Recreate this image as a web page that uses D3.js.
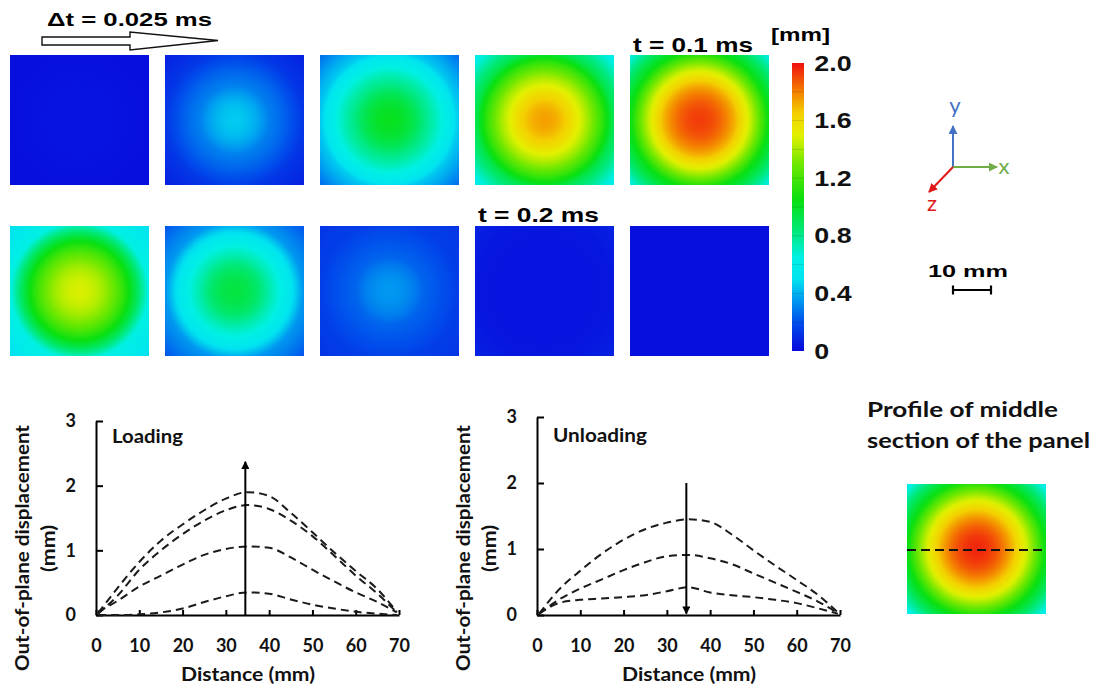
<!DOCTYPE html>
<html>
<head>
<meta charset="utf-8">
<script src="https://cdn.jsdelivr.net/npm/d3@7"></script>
<style>
  body { margin: 0; background: #fff; }
  svg { display: block; }
  .arial { font-family: "Liberation Sans", Arial, sans-serif; font-weight: bold; }
  .cal { font-family: Lato, "Open Sans", sans-serif; font-weight: bold; }
  .axis path, .axis line { stroke: #000; stroke-width: 2; }
  .axis text { font-family: Lato, "Open Sans", sans-serif; font-weight: bold; font-size: 18px; fill: #111; }
</style>
</head>
<body>
<svg id="fig" width="1098" height="694"></svg>
<script>
// ---- contour colour map (displacement in mm -> colour) ----
const cmapValues = [0, 0.2, 0.35, 0.5, 0.65, 0.85, 1.05, 1.3, 1.5, 1.65, 1.8, 2.0];
const cmapColors = ['#0808dc', '#0050ec', '#0098f0', '#00e4f0', '#00f0e4', '#00e870',
                    '#08e010', '#70e800', '#e4f000', '#f4d000', '#f48000', '#f01010'];
const colorTicks = [0, 0.4, 0.8, 1.2, 1.6, 2.0];

// ---- contour panels: displacement sampled along the radius (mm from centre) ----
const fieldRadius = [0, 9, 18, 26];
const loadingPanels = [
  [0.03, 0.03, 0.02, 0.02],
  [0.45, 0.30, 0.13, 0.05],
  [1.02, 0.82, 0.45, 0.22],
  [1.74, 1.50, 0.92, 0.50],
  [1.92, 1.72, 1.05, 0.55]
];
const unloadingPanels = [
  [1.48, 1.28, 0.65, 0.45],
  [0.95, 0.75, 0.35, 0.18],
  [0.35, 0.24, 0.15, 0.12],
  [0.03, 0.03, 0.04, 0.08],
  [0.02, 0.02, 0.02, 0.02]
];
const profilePanel = [1.96, 1.72, 1.05, 0.50];

// ---- middle section profiles: distance (mm) vs out-of-plane displacement (mm) ----
const distance = [0.5, 5, 10, 15, 20, 25, 30, 35, 40, 45, 50, 55, 60, 65, 69.5];
const loadingCurves = [
  [0.00, 0.00, 0.01, 0.04, 0.10, 0.20, 0.29, 0.35, 0.33, 0.24, 0.16, 0.10, 0.05, 0.02, 0.00],
  [0.05, 0.22, 0.44, 0.61, 0.78, 0.93, 1.02, 1.06, 1.04, 0.89, 0.70, 0.52, 0.35, 0.20, 0.04],
  [0.02, 0.30, 0.70, 1.00, 1.25, 1.46, 1.62, 1.70, 1.64, 1.46, 1.22, 0.92, 0.61, 0.33, 0.04],
  [0.03, 0.42, 0.82, 1.15, 1.40, 1.62, 1.80, 1.90, 1.84, 1.58, 1.28, 0.97, 0.68, 0.40, 0.05]
];
const unloadingCurves = [
  [0.02, 0.38, 0.67, 0.93, 1.14, 1.30, 1.40, 1.45, 1.41, 1.22, 0.98, 0.75, 0.53, 0.30, 0.04],
  [0.02, 0.23, 0.40, 0.54, 0.68, 0.80, 0.89, 0.91, 0.86, 0.77, 0.63, 0.49, 0.35, 0.20, 0.03],
  [0.02, 0.18, 0.23, 0.25, 0.27, 0.30, 0.36, 0.42, 0.34, 0.30, 0.27, 0.23, 0.18, 0.10, 0.02]
];
const distTicks = [0, 10, 20, 30, 40, 50, 60, 70];
const dispTicks = [0, 1, 2, 3];
const arrowDist = 34.5;
const loadingArrow = [0, 2.37];
const unloadingArrow = [2.0, 0.02];

// ---------------------------------------------------------------
const svg = d3.select('#fig');
const defs = svg.append('defs');
const cmap = d3.scaleLinear().domain(cmapValues).range(cmapColors).clamp(true);

const PX_PER_MM = 3.8;          // from the 10 mm scale bar
const PANEL_W = 139, PANEL_H = 130;
const panelX = d3.scaleLinear().domain([0, 4]).range([10, 630]);

function stretchText(g, str, x, y, size, len, cls) {
  return g.append('text').attr('class', cls || 'arial')
    .attr('x', x).attr('y', y)
    .attr('font-size', size)
    .attr('textLength', len).attr('lengthAdjust', 'spacingAndGlyphs')
    .text(str);
}

function arrowMarker(id, color, size) {
  defs.append('marker').attr('id', id)
    .attr('viewBox', '0 0 10 10').attr('refX', 9).attr('refY', 5)
    .attr('markerUnits', 'userSpaceOnUse')
    .attr('markerWidth', size).attr('markerHeight', size)
    .attr('orient', 'auto')
    .append('path').attr('d', 'M0,0 L10,5 L0,10 Z').attr('fill', color);
}
arrowMarker('arrBlack', '#000', 8);
arrowMarker('arrBlue', '#4472c4', 9);
arrowMarker('arrGreen', '#70ad47', 9);
arrowMarker('arrRed', '#e01818', 9);

// radial contour panel (interpolated on r² so the centre stays smooth)
let fieldId = 0;
function drawField(values, x, y) {
  const field = d3.scaleLinear().domain(fieldRadius.map(r => r * r)).range(values).clamp(true);
  const rMax = d3.max(fieldRadius);
  const id = 'field' + (fieldId++);
  const grad = defs.append('radialGradient').attr('id', id)
    .attr('gradientUnits', 'userSpaceOnUse')
    .attr('cx', x + PANEL_W / 2).attr('cy', y + PANEL_H / 2)
    .attr('r', rMax * PX_PER_MM);
  grad.selectAll('stop').data(d3.range(0, 41)).join('stop')
    .attr('offset', i => i / 40)
    .attr('stop-color', i => cmap(field(Math.pow(i / 40 * rMax, 2))));
  svg.append('rect')
    .attr('x', x).attr('y', y).attr('width', PANEL_W).attr('height', PANEL_H)
    .attr('fill', `url(#${id})`);
}

loadingPanels.forEach((v, i) => drawField(v, panelX(i), 55));
unloadingPanels.forEach((v, i) => drawField(v, panelX(i), 226));

// time step arrow + labels
svg.append('path')
  .attr('d', 'M42,37 L130,37 L130,32 L218,40.5 L130,50 L130,45 L42,45 Z')
  .attr('fill', '#fff').attr('stroke', '#111').attr('stroke-width', 1.4);
stretchText(svg, 'Δt = 0.025 ms', 47, 26, 19, 165);
stretchText(svg, 't = 0.1 ms', 633, 52, 21, 120);
stretchText(svg, 't = 0.2 ms', 478, 222, 21, 121);
stretchText(svg, '[mm]', 771, 41, 19, 59);

// colour bar
const cbScale = d3.scaleLinear().domain([0, 2]).range([351, 63]);
const cbGrad = defs.append('linearGradient').attr('id', 'cbGrad')
  .attr('x1', 0).attr('y1', 1).attr('x2', 0).attr('y2', 0);
cbGrad.selectAll('stop').data(cmapValues).join('stop')
  .attr('offset', v => v / 2)
  .attr('stop-color', (v, i) => cmapColors[i]);
svg.append('rect').attr('x', 792).attr('y', 63).attr('width', 12).attr('height', 288)
  .attr('fill', 'url(#cbGrad)');
svg.append('g').selectAll('line').data(d3.range(1, 10).map(i => i * 0.2)).join('line')
  .attr('x1', 792).attr('x2', 804)
  .attr('y1', d => cbScale(d)).attr('y2', d => cbScale(d))
  .attr('stroke', 'rgba(0,0,0,0.12)').attr('stroke-width', 1);
const cbAxis = svg.append('g').attr('transform', 'translate(804,0)')
  .call(d3.axisRight(cbScale).tickValues(colorTicks).tickSize(0).tickPadding(0)
    .tickFormat(d => d === 0 ? '0' : d.toFixed(1)));
cbAxis.select('.domain').remove();
cbAxis.selectAll('text')
  .attr('class', 'arial').attr('font-size', 22).attr('fill', '#111')
  .attr('x', 8.5).attr('transform', 'scale(1.22,1)');

// axis triad
const ox = 953, oy = 167;
svg.append('line').attr('x1', ox).attr('y1', oy).attr('x2', ox).attr('y2', 126)
  .attr('stroke', '#4472c4').attr('stroke-width', 2).attr('marker-end', 'url(#arrBlue)');
svg.append('line').attr('x1', ox).attr('y1', oy).attr('x2', 997).attr('y2', oy)
  .attr('stroke', '#70ad47').attr('stroke-width', 2).attr('marker-end', 'url(#arrGreen)');
svg.append('line').attr('x1', ox).attr('y1', oy).attr('x2', 929).attr('y2', 192)
  .attr('stroke', '#e01818').attr('stroke-width', 2).attr('marker-end', 'url(#arrRed)');
const triad = [['y', 955, 113, '#4472c4'], ['x', 1004, 174, '#70ad47'], ['z', 932, 211, '#e01818']];
svg.selectAll('.triad').data(triad).join('text').attr('class', 'triad')
  .attr('x', d => d[1]).attr('y', d => d[2]).attr('fill', d => d[3])
  .attr('text-anchor', 'middle').attr('font-family', 'Lato, sans-serif').attr('font-size', 22)
  .text(d => d[0]);

// scale bar
stretchText(svg, '10 mm', 928, 277, 16, 80);
const sb = svg.append('g').attr('stroke', '#000').attr('stroke-width', 2.2);
sb.append('line').attr('x1', 953).attr('x2', 953 + 10 * PX_PER_MM).attr('y1', 290).attr('y2', 290);
sb.append('line').attr('x1', 953).attr('x2', 953).attr('y1', 285.5).attr('y2', 294.5);
sb.append('line').attr('x1', 953 + 10 * PX_PER_MM).attr('x2', 953 + 10 * PX_PER_MM).attr('y1', 285.5).attr('y2', 294.5);

// ---- profile charts ----
function drawChart(o) {
  const x = d3.scaleLinear().domain([0, 70]).range([o.left, o.left + 303]);
  const y = d3.scaleLinear().domain([0, 3]).range([615, o.top]);
  const g = svg.append('g');

  g.append('g').attr('class', 'axis').attr('transform', 'translate(0,615)')
    .call(d3.axisBottom(x).tickValues(distTicks).tickSize(-5).tickSizeOuter(0).tickPadding(24));
  g.append('g').attr('class', 'axis').attr('transform', `translate(${o.left},0)`)
    .call(d3.axisLeft(y).tickValues(dispTicks).tickFormat(d3.format('d'))
      .tickSize(-7).tickSizeOuter(0).tickPadding(20));

  const line = d3.line().x((d, i) => x(distance[i])).y(d => y(d)).curve(d3.curveMonotoneX);
  g.selectAll('.curve').data(o.curves).join('path').attr('class', 'curve')
    .attr('d', line).attr('fill', 'none')
    .attr('stroke', '#1a1a1a').attr('stroke-width', 2).attr('stroke-dasharray', '8,5');

  g.append('line')
    .attr('x1', x(arrowDist)).attr('x2', x(arrowDist))
    .attr('y1', y(o.arrow[0])).attr('y2', y(o.arrow[1]))
    .attr('stroke', '#000').attr('stroke-width', 2).attr('marker-end', 'url(#arrBlack)');

  stretchText(g, o.label, o.left + 16, o.labelY, 18, o.labelLen, 'cal').attr('fill', '#111');
  stretchText(g, 'Distance (mm)', o.left + 85, 681, 18, 134, 'cal').attr('fill', '#111');

  const ty = g.append('g').attr('transform', `translate(${o.left - 67},548) rotate(-90)`);
  stretchText(ty, 'Out-of-plane displacement', -123, 0, 18, 246, 'cal').attr('fill', '#111');
  stretchText(ty, '(mm)', -24, 26, 18, 47, 'cal').attr('fill', '#111');
}

drawChart({ left: 96, top: 421, curves: loadingCurves, arrow: loadingArrow,
  label: 'Loading', labelY: 443, labelLen: 71 });
drawChart({ left: 537, top: 417, curves: unloadingCurves, arrow: unloadingArrow,
  label: 'Unloading', labelY: 442, labelLen: 94 });

// ---- profile panel ----
stretchText(svg, 'Profile of middle', 867, 417, 21, 191, 'cal').attr('fill', '#111');
stretchText(svg, 'section of the panel', 867, 448, 21, 223, 'cal').attr('fill', '#111');
const pX = 907, pY = 484;
drawField(profilePanel, pX, pY);
svg.append('line')
  .attr('x1', pX).attr('x2', pX + PANEL_W - 3)
  .attr('y1', pY + PANEL_H / 2 + 1).attr('y2', pY + PANEL_H / 2 + 1)
  .attr('stroke', '#111').attr('stroke-width', 2).attr('stroke-dasharray', '9,5');
</script>
</body>
</html>
